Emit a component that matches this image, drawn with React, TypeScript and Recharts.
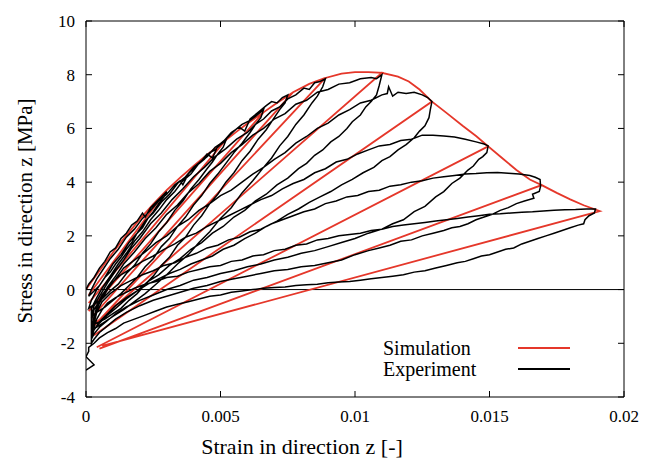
import React from 'react';
import { LineChart, Line, XAxis, YAxis, ReferenceLine } from 'recharts';

type Pt = [number, number];

const FONT = '"Liberation Serif", "DejaVu Serif", serif';
const RED = '#e5372a';

const strainTicks = [0, 0.005, 0.01, 0.015, 0.02];
const stressTicks = [-4, -2, 0, 2, 4, 6, 8, 10];

// simulation: envelope (monotonic in strain), unloading corners and where each unloading ends
const simEnvelope: Pt[] = [
  [0, 0], [0.0005, 0.7], [0.001, 1.38], [0.0015, 2.02], [0.002, 2.62], [0.0025, 3.18], [0.003, 3.7],
  [0.0035, 4.17], [0.004, 4.6], [0.0045, 5.02], [0.0052, 5.57],
  [0.0056, 5.88], [0.006, 6.18], [0.0066, 6.6],
  [0.007, 6.88], [0.0077, 7.35],
  [0.0083, 7.66], [0.0089, 7.88],
  [0.0095, 8.04], [0.01, 8.1], [0.0105, 8.1], [0.011, 8.07],
  [0.0116, 7.93], [0.012, 7.75], [0.0124, 7.45], [0.01286, 7.0],
  [0.0134, 6.58], [0.014, 6.1], [0.0145, 5.72], [0.01495, 5.33],
  [0.0155, 4.87], [0.016, 4.45], [0.0165, 4.1], [0.01694, 3.89],
  [0.0175, 3.6], [0.018, 3.36], [0.0185, 3.14], [0.0191, 2.92],
];
const simCorners = [0.003, 0.0052, 0.0066, 0.0077, 0.0089, 0.011, 0.01286, 0.01495, 0.01694, 0.0191];
const simBottoms: Pt[] = [
  [0.0001, -0.2], [0.0001, -0.5], [0.0001, -0.8], [0.0002, -1.05], [0.0002, -1.45],
  [0.0003, -1.3], [0.0003, -1.7], [0.0004, -2.15], [0.0005, -2.2], [0.0006, -2.1],
];

// experiment, cycle by cycle (up = reloading to peak, down = unloading)
const expUp1: Pt[] = [
  [0, 0], [0.0001, 0.2], [0.0003, 0.45], [0.0005, 0.8], [0.0007, 1.05], [0.0009, 1.4], [0.0011, 1.55],
  [0.0013, 1.9], [0.0015, 2.1], [0.0017, 2.4], [0.0019, 2.55], [0.0021, 2.85], [0.0022, 2.7],
  [0.0024, 3.05], [0.0026, 3.25], [0.0028, 3.45], [0.003, 3.65],
];
const expDown1: Pt[] = [
  [0.0029, 3.45], [0.0027, 3.2], [0.0025, 2.9], [0.0023, 2.65], [0.0021, 2.3], [0.0019, 2.1], [0.0017, 1.75],
  [0.0015, 1.5], [0.0013, 1.2], [0.0011, 0.95], [0.0009, 0.65], [0.0007, 0.45], [0.0005, 0.15],
  [0.0003, -0.05], [0.0001, -0.25],
];
const expUp2: Pt[] = [
  [0.0002, 0.0], [0.0004, 0.4], [0.0006, 0.7], [0.0009, 1.15], [0.0012, 1.5], [0.0015, 1.95], [0.0018, 2.25],
  [0.0021, 2.65], [0.0024, 2.95], [0.0027, 3.3], [0.003, 3.55], [0.0033, 3.9], [0.0035, 4.05], [0.0036, 3.9],
  [0.0038, 4.3], [0.0041, 4.6], [0.0044, 4.85], [0.0046, 5.1], [0.0048, 5.2], [0.005, 5.4], [0.0052, 5.55],
];
const expDown2: Pt[] = [
  [0.0051, 5.3], [0.0049, 5.05], [0.0047, 4.75], [0.0045, 4.5], [0.0042, 4.1], [0.0039, 3.75], [0.0036, 3.3],
  [0.0033, 2.95], [0.003, 2.5], [0.0027, 2.15], [0.0024, 1.7], [0.0021, 1.35], [0.0018, 0.9], [0.0015, 0.6],
  [0.0012, 0.2], [0.0009, -0.05], [0.0006, -0.35], [0.0003, -0.55], [0.0001, -0.7],
];
const expUp3: Pt[] = [
  [0.0002, -0.4], [0.0004, 0.0], [0.0007, 0.45], [0.001, 0.95], [0.0013, 1.3], [0.0016, 1.75], [0.0019, 2.1],
  [0.0022, 2.55], [0.0025, 2.85], [0.0028, 3.25], [0.0031, 3.55], [0.0034, 3.95], [0.0037, 4.2], [0.004, 4.55],
  [0.0043, 4.8], [0.0045, 5.05], [0.0047, 4.9], [0.0049, 5.35], [0.0052, 5.6], [0.0055, 5.9], [0.0058, 6.15],
  [0.0061, 6.3], [0.0063, 6.45], [0.0066, 6.7],
];
const expDown3: Pt[] = [
  [0.0065, 6.4], [0.0063, 6.15], [0.0061, 5.85], [0.0058, 5.45], [0.0055, 5.1], [0.0052, 4.7], [0.0049, 4.3],
  [0.0046, 3.95], [0.0043, 3.5], [0.004, 3.15], [0.0037, 2.7], [0.0034, 2.35], [0.0031, 1.9], [0.0028, 1.6],
  [0.0025, 1.15], [0.0022, 0.85], [0.0019, 0.45], [0.0016, 0.15], [0.0013, -0.15], [0.001, -0.4],
  [0.0007, -0.65], [0.0004, -0.85], [0.0002, -1.0],
];
const expUp4: Pt[] = [
  [0.0002, -0.7], [0.0004, -0.3], [0.0006, 0.05], [0.0009, 0.5], [0.0012, 0.95], [0.0015, 1.35], [0.0018, 1.8],
  [0.0021, 2.15], [0.0024, 2.6], [0.0027, 2.95], [0.003, 3.35], [0.0033, 3.65], [0.0036, 4.05], [0.0039, 4.3],
  [0.0042, 4.7], [0.0045, 4.95], [0.0048, 5.3], [0.0051, 5.5], [0.0054, 5.85], [0.0057, 6.05], [0.0059, 5.9],
  [0.0061, 6.35], [0.0064, 6.6], [0.0067, 6.85], [0.0069, 7.0], [0.0071, 6.95], [0.0073, 7.15], [0.0075, 7.25],
];
const expDown4: Pt[] = [
  [0.0074, 6.95], [0.0072, 6.7], [0.007, 6.4], [0.0067, 5.95], [0.0064, 5.6], [0.0061, 5.15], [0.0058, 4.8],
  [0.0055, 4.35], [0.0052, 4.0], [0.0049, 3.55], [0.0046, 3.2], [0.0043, 2.75], [0.004, 2.4], [0.0037, 1.95],
  [0.0034, 1.65], [0.0031, 1.2], [0.0028, 0.9], [0.0025, 0.5], [0.0022, 0.2], [0.0019, -0.15], [0.0016, -0.4],
  [0.0013, -0.7], [0.001, -0.9], [0.0007, -1.1], [0.0004, -1.25], [0.0002, -1.35],
];
const expUp5: Pt[] = [
  [0.0002, -1.0], [0.0003, -0.6], [0.0005, -0.25], [0.0008, 0.25], [0.0011, 0.7], [0.0014, 1.1], [0.0017, 1.55],
  [0.002, 1.9], [0.0024, 2.45], [0.0028, 2.85], [0.0032, 3.35], [0.0036, 3.75], [0.004, 4.2], [0.0044, 4.55],
  [0.0048, 4.95], [0.0052, 5.25], [0.0056, 5.6], [0.006, 5.85], [0.0063, 6.15], [0.0066, 6.35], [0.0069, 6.65],
  [0.0072, 6.8], [0.0075, 7.1], [0.0078, 7.25], [0.0081, 7.5], [0.0083, 7.45], [0.0085, 7.7], [0.0087, 7.75],
  [0.0089, 7.85],
];
const expDown5: Pt[] = [
  [0.0088, 7.55], [0.0086, 7.2], [0.0084, 6.95], [0.0081, 6.5], [0.0078, 6.15], [0.0075, 5.7], [0.0072, 5.35],
  [0.0069, 4.9], [0.0066, 4.55], [0.0062, 4.05], [0.0058, 3.6], [0.0054, 3.05], [0.005, 2.65], [0.0046, 2.15],
  [0.0042, 1.75], [0.0038, 1.3], [0.0034, 0.95], [0.003, 0.55], [0.0026, 0.2], [0.0022, -0.15], [0.0018, -0.45],
  [0.0014, -0.75], [0.001, -1.0], [0.0007, -1.2], [0.0004, -1.4], [0.0002, -1.5],
];
const expUp6: Pt[] = [
  [0.0002, -1.15], [0.0003, -0.75], [0.0005, -0.4], [0.0008, 0.1], [0.0011, 0.5], [0.0014, 0.95], [0.0018, 1.4],
  [0.0022, 1.9], [0.0026, 2.3], [0.003, 2.8], [0.0034, 3.15], [0.0038, 3.6], [0.0042, 3.95], [0.0046, 4.4],
  [0.005, 4.7], [0.0054, 5.1], [0.0058, 5.4], [0.0062, 5.75], [0.0066, 6.0], [0.007, 6.35], [0.0074, 6.55],
  [0.0078, 6.9], [0.0082, 7.05], [0.0086, 7.35], [0.009, 7.45], [0.0094, 7.65], [0.0098, 7.7], [0.0102, 7.85],
  [0.0106, 7.9], [0.0108, 7.85], [0.011, 8.0],
];
const expDown6: Pt[] = [
  [0.0109, 7.6], [0.0108, 7.25], [0.0106, 7.0], [0.0104, 6.8], [0.0102, 6.5], [0.0099, 6.25], [0.0097, 6.0],
  [0.0094, 5.7], [0.0091, 5.5], [0.0088, 5.2], [0.0085, 5.0], [0.0082, 4.7], [0.0079, 4.5], [0.0075, 4.15],
  [0.0071, 3.9], [0.0067, 3.55], [0.0063, 3.3], [0.0059, 2.95], [0.0055, 2.7], [0.0051, 2.35], [0.0047, 2.1],
  [0.0043, 1.75], [0.0039, 1.5], [0.0035, 1.15], [0.0031, 0.9], [0.0027, 0.55], [0.0023, 0.3], [0.0019, -0.05],
  [0.0015, -0.35], [0.0011, -0.7], [0.0008, -0.95], [0.0005, -1.25], [0.0003, -1.5], [0.0002, -1.7],
];
const expUp7: Pt[] = [
  [0.0002, -1.4], [0.0003, -1.0], [0.0005, -0.5], [0.0008, 0.0], [0.0011, 0.4], [0.0014, 0.8], [0.0018, 1.1],
  [0.0022, 1.4], [0.0026, 1.75], [0.003, 2.0], [0.0034, 2.35], [0.0038, 2.6], [0.0042, 2.95], [0.0046, 3.2],
  [0.005, 3.5], [0.0054, 3.7], [0.0058, 4.0], [0.0062, 4.3], [0.0066, 4.55], [0.007, 4.85], [0.0074, 5.1],
  [0.0078, 5.45], [0.0082, 5.7], [0.0086, 6.0], [0.009, 6.2], [0.0094, 6.5], [0.0098, 6.7], [0.0102, 6.95],
  [0.0106, 7.05], [0.011, 7.25], [0.0112, 7.3], [0.01125, 7.55], [0.0114, 7.2], [0.0116, 7.35], [0.0119, 7.3],
  [0.0122, 7.35], [0.0125, 7.25], [0.0127, 7.15], [0.01286, 7.0],
];
const expDown7: Pt[] = [
  [0.0128, 6.7], [0.01275, 6.4], [0.0126, 6.1], [0.0124, 5.9], [0.0122, 5.65], [0.0119, 5.4], [0.0116, 5.2],
  [0.0113, 4.95], [0.011, 4.8], [0.0107, 4.55], [0.0103, 4.35], [0.0099, 4.1], [0.0095, 3.9], [0.0091, 3.65],
  [0.0087, 3.45], [0.0083, 3.25], [0.0079, 3.0], [0.0075, 2.8], [0.0071, 2.55], [0.0067, 2.35], [0.0063, 2.1],
  [0.0059, 1.9], [0.0055, 1.65], [0.0051, 1.5], [0.0047, 1.25], [0.0043, 1.1], [0.0039, 0.95], [0.0035, 0.75],
  [0.0031, 0.6], [0.0027, 0.4], [0.0023, 0.2], [0.0019, -0.05], [0.0015, -0.3], [0.0011, -0.6], [0.0008, -0.9],
  [0.0005, -1.2], [0.0003, -1.5], [0.0002, -1.8],
];
const expUp8: Pt[] = [
  [0.0002, -1.5], [0.0003, -1.1], [0.0004, -0.6], [0.0006, -0.2], [0.0009, 0.2], [0.0013, 0.55], [0.0017, 0.8],
  [0.0021, 1.05], [0.0025, 1.25], [0.0029, 1.5], [0.0033, 1.7], [0.0037, 1.95], [0.0041, 2.1], [0.0045, 2.35],
  [0.0049, 2.55], [0.0053, 2.75], [0.0057, 2.95], [0.0061, 3.15], [0.0065, 3.35], [0.0069, 3.5], [0.0073, 3.75],
  [0.0077, 3.95], [0.0081, 4.1], [0.0085, 4.35], [0.0089, 4.5], [0.0093, 4.75], [0.0097, 4.85], [0.0101, 5.05],
  [0.0105, 5.2], [0.0109, 5.35], [0.0113, 5.4], [0.0117, 5.55], [0.0121, 5.6], [0.0125, 5.75], [0.0129, 5.75],
  [0.0133, 5.72], [0.0137, 5.68], [0.0141, 5.6], [0.0145, 5.5], [0.0148, 5.42], [0.01495, 5.35],
];
const expDown8: Pt[] = [
  [0.0149, 5.1], [0.01475, 4.95], [0.0146, 4.85], [0.0144, 4.6], [0.0142, 4.45], [0.0139, 4.15], [0.0136, 3.95],
  [0.0133, 3.65], [0.013, 3.45], [0.0126, 3.1], [0.0122, 2.9], [0.0118, 2.6], [0.0114, 2.45], [0.011, 2.25],
  [0.0105, 2.1], [0.01, 1.9], [0.0095, 1.75], [0.009, 1.6], [0.0085, 1.45], [0.008, 1.35], [0.0075, 1.2],
  [0.007, 1.1], [0.0065, 0.95], [0.006, 0.85], [0.0055, 0.7], [0.005, 0.6], [0.0045, 0.45], [0.004, 0.35],
  [0.0035, 0.15], [0.003, 0.0], [0.0025, -0.2], [0.002, -0.4], [0.0015, -0.65], [0.0011, -0.9], [0.0008, -1.15],
  [0.0005, -1.4], [0.0003, -1.65], [0.0002, -1.85],
];
const expUp9: Pt[] = [
  [0.0002, -1.6], [0.0003, -1.25], [0.0004, -0.85], [0.0006, -0.45], [0.0009, -0.15], [0.0013, 0.15],
  [0.0017, 0.35], [0.0021, 0.55], [0.0025, 0.7], [0.0029, 0.9], [0.0033, 1.0], [0.0037, 1.2], [0.0041, 1.35],
  [0.0045, 1.55], [0.0049, 1.65], [0.0053, 1.85], [0.0057, 1.95], [0.0061, 2.15], [0.0065, 2.25], [0.0069, 2.45],
  [0.0073, 2.6], [0.0077, 2.75], [0.0081, 2.9], [0.0085, 3.0], [0.0089, 3.2], [0.0093, 3.3], [0.0097, 3.45],
  [0.0101, 3.5], [0.0105, 3.65], [0.0109, 3.7], [0.0113, 3.85], [0.0117, 3.9], [0.0121, 4.0], [0.0125, 4.05],
  [0.0129, 4.15], [0.0133, 4.2], [0.0137, 4.25], [0.0141, 4.3], [0.0145, 4.32], [0.0149, 4.35], [0.0153, 4.36],
  [0.0157, 4.33], [0.0161, 4.3], [0.0165, 4.25], [0.0167, 4.18], [0.01688, 4.1],
];
const expDown9: Pt[] = [
  [0.0169, 3.85], [0.01685, 3.65], [0.0166, 3.55], [0.01665, 3.4], [0.0163, 3.3], [0.016, 3.2], [0.0157, 3.05],
  [0.0154, 2.95], [0.0151, 2.8], [0.0148, 2.7], [0.0145, 2.6], [0.0142, 2.45], [0.0139, 2.35], [0.0136, 2.3],
  [0.0133, 2.2], [0.0129, 2.1], [0.0125, 2.0], [0.0121, 1.85], [0.0117, 1.8], [0.0113, 1.65], [0.0109, 1.55],
  [0.0105, 1.45], [0.01, 1.3], [0.0095, 1.1], [0.009, 1.0], [0.0085, 0.9], [0.008, 0.85], [0.0075, 0.75],
  [0.007, 0.7], [0.0065, 0.6], [0.006, 0.5], [0.0055, 0.4], [0.005, 0.3], [0.0045, 0.15], [0.004, 0.05],
  [0.0035, -0.1], [0.003, -0.25], [0.0025, -0.4], [0.002, -0.6], [0.0015, -0.85], [0.0011, -1.1],
  [0.0008, -1.35], [0.0005, -1.6], [0.0003, -1.85], [0.0002, -2.0],
];
const expUp10: Pt[] = [
  [0.0002, -1.7], [0.0003, -1.4], [0.0004, -1.1], [0.0006, -0.75], [0.0008, -0.5], [0.0011, -0.3],
  [0.0014, -0.15], [0.0018, 0.05], [0.0022, 0.2], [0.0026, 0.3], [0.003, 0.45], [0.0034, 0.5], [0.0038, 0.65],
  [0.0042, 0.75], [0.0046, 0.85], [0.005, 0.9], [0.0054, 1.05], [0.0058, 1.1], [0.0062, 1.25], [0.0066, 1.3],
  [0.007, 1.45], [0.0074, 1.5], [0.0078, 1.65], [0.0082, 1.7], [0.0086, 1.85], [0.009, 1.9], [0.0094, 2.0],
  [0.0098, 2.05], [0.0102, 2.1], [0.0106, 2.2], [0.011, 2.25], [0.0114, 2.35], [0.0118, 2.4], [0.0122, 2.45],
  [0.0126, 2.5], [0.013, 2.55], [0.0134, 2.6], [0.0138, 2.65], [0.0142, 2.7], [0.0146, 2.75], [0.015, 2.8],
  [0.0154, 2.82], [0.0158, 2.85], [0.0162, 2.88], [0.0166, 2.9], [0.017, 2.93], [0.0174, 2.95], [0.0178, 2.97],
  [0.0182, 2.98], [0.0186, 3.0], [0.01894, 3.0],
];
const expDown10: Pt[] = [
  [0.0189, 2.85], [0.0187, 2.75], [0.01855, 2.6], [0.0185, 2.45], [0.0183, 2.4], [0.018, 2.3], [0.0177, 2.2],
  [0.0174, 2.1], [0.0171, 2.0], [0.0168, 1.9], [0.0165, 1.8], [0.0162, 1.7], [0.0159, 1.55], [0.0156, 1.5],
  [0.0153, 1.4], [0.015, 1.3], [0.0147, 1.25], [0.0144, 1.15], [0.0141, 1.05], [0.0138, 1.0], [0.0134, 0.9],
  [0.013, 0.8], [0.0126, 0.7], [0.0122, 0.65], [0.0118, 0.55], [0.0114, 0.5], [0.011, 0.45], [0.0106, 0.4],
  [0.0102, 0.35], [0.0098, 0.3], [0.0094, 0.28], [0.009, 0.25], [0.0086, 0.2], [0.0082, 0.18], [0.0078, 0.15],
  [0.0074, 0.1], [0.007, 0.08], [0.0066, 0.05], [0.0062, 0.0], [0.0058, -0.05], [0.0054, -0.1], [0.005, -0.2],
  [0.0046, -0.25], [0.0042, -0.35], [0.0038, -0.45], [0.0034, -0.55], [0.003, -0.65], [0.0026, -0.8],
  [0.0022, -0.95], [0.0018, -1.1], [0.0014, -1.25], [0.0011, -1.45], [0.0008, -1.6], [0.0005, -1.8],
  [0.0003, -2.0], [0.0001, -2.15],
];
const expTail: Pt[] = [[0.0001, -2.3], [0, -2.5], [0.0003, -2.8], [0, -3.0]];

const experimentCycles: Pt[][] = [
  expUp1, expDown1, expUp2, expDown2, expUp3, expDown3, expUp4, expDown4, expUp5, expDown5,
  expUp6, expDown6, expUp7, expDown7, expUp8, expDown8, expUp9, expDown9, expUp10, expDown10, expTail,
];

const rows = (pts: Pt[]) => pts.map(([strain, stress]) => ({ strain, stress }));

const buildSimulation = (): Pt[] => {
  const out: Pt[] = [];
  simEnvelope.forEach((p) => {
    out.push(p);
    const k = simCorners.findIndex((c) => Math.abs(c - p[0]) < 1e-7);
    if (k >= 0) {
      out.push(simBottoms[k]);
      if (k < simCorners.length - 1) out.push(p);
    }
  });
  return out;
};

const simData = rows(buildSimulation());
const expData = rows(experimentCycles.flat());

const tickStyle = { fill: '#000', fontSize: 17, fontFamily: FONT };
const blank = () => '';
const legendText = { position: 'absolute' as const, left: 383, fontFamily: FONT, fontSize: 20, lineHeight: '19px', color: '#000', whiteSpace: 'nowrap' as const };

export default function App() {
  return (
    <div style={{ position: 'absolute', left: 0, top: 0, width: 646, height: 461, background: '#fff' }}>
      <LineChart width={646} height={461} margin={{ top: 20, right: 21, bottom: 4, left: 0 }}>
        <XAxis
          xAxisId="bottom"
          dataKey="strain"
          type="number"
          domain={[0, 0.02]}
          ticks={strainTicks}
          allowDataOverflow
          height={60}
          tickSize={-6}
          tickMargin={19}
          tick={tickStyle}
          stroke="#000"
        />
        <XAxis
          xAxisId="top"
          orientation="top"
          dataKey="strain"
          type="number"
          domain={[0, 0.02]}
          ticks={strainTicks}
          allowDataOverflow
          height={1}
          tickSize={-6}
          tickFormatter={blank}
          stroke="#000"
        />
        <YAxis
          yAxisId="left"
          type="number"
          domain={[-4, 10]}
          ticks={stressTicks}
          allowDataOverflow
          width={86}
          tickSize={-6}
          tickMargin={17}
          tick={tickStyle}
          stroke="#000"
        />
        <YAxis
          yAxisId="right"
          orientation="right"
          type="number"
          domain={[-4, 10]}
          ticks={stressTicks}
          allowDataOverflow
          width={1}
          tickSize={-6}
          tickFormatter={blank}
          stroke="#000"
        />
        <ReferenceLine xAxisId="bottom" yAxisId="left" y={0} stroke="#000" strokeWidth={1} />
        <Line
          xAxisId="bottom"
          yAxisId="left"
          data={simData}
          dataKey="stress"
          type="linear"
          stroke={RED}
          strokeWidth={1.8}
          dot={false}
          isAnimationActive={false}
        />
        <Line
          xAxisId="bottom"
          yAxisId="left"
          data={expData}
          dataKey="stress"
          type="linear"
          stroke="#000"
          strokeWidth={1.5}
          dot={false}
          isAnimationActive={false}
        />
      </LineChart>
      <div style={{ position: 'absolute', left: 0, top: 434, width: 604, textAlign: 'center', fontFamily: FONT, fontSize: 22, lineHeight: '26px', color: '#000', whiteSpace: 'nowrap' }}>
        Strain in direction z [-]
      </div>
      <div style={{ position: 'absolute', left: 25, top: 211, transform: 'translate(-50%, -50%) rotate(-90deg)', fontFamily: FONT, fontSize: 21, lineHeight: '26px', color: '#000', whiteSpace: 'nowrap' }}>
        Stress in direction z [MPa]
      </div>
      <div style={{ ...legendText, top: 339 }}>Simulation</div>
      <div style={{ ...legendText, top: 360 }}>Experiment</div>
      <div style={{ position: 'absolute', left: 518, top: 347, width: 52, height: 2, background: RED }} />
      <div style={{ position: 'absolute', left: 518, top: 368, width: 52, height: 2, background: '#000' }} />
    </div>
  );
}
